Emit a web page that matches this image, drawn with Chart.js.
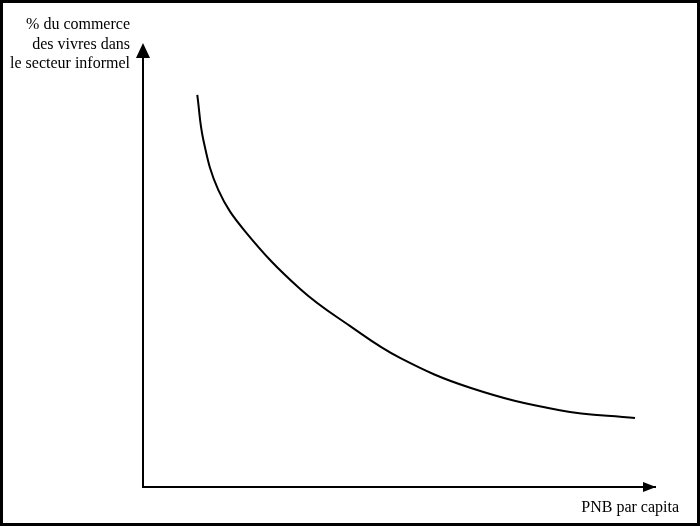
<!DOCTYPE html>
<html>
<head>
<meta charset="utf-8">
<script src="https://cdn.jsdelivr.net/npm/chart.js@4"></script>
<style>
  html, body { margin: 0; padding: 0; background: #fff; }
  #wrap { width: 700px; height: 526px; }
</style>
</head>
<body>
<div id="wrap"><canvas id="curveChart" width="700" height="526"></canvas></div>
<script>
// in axis units (0..100 on both axes)
const gnpPerCapita = [10.6, 11.8, 14.7, 19.9, 30.7, 40.4, 50.2, 63.9, 81.4, 96.1];
const informalShare = [89.3, 79.0, 67.7, 58.3, 45.1, 36.7, 29.4, 22.6, 17.5, 15.7];

const yAxisTitle = ['% du commerce', 'des vivres dans', 'le secteur informel'];
const xAxisTitle = 'PNB par capita';

const points = gnpPerCapita.map((x, i) => ({ x: x, y: informalShare[i] }));

// frame, arrow heads and the two axis labels
const decorPlugin = {
  id: 'decor',
  afterDraw(chart) {
    const ctx = chart.ctx;
    const area = chart.chartArea;
    ctx.save();

    // outer frame
    ctx.strokeStyle = '#000';
    ctx.lineWidth = 3;
    ctx.strokeRect(1.5, 1.5, chart.width - 3, chart.height - 3);

    // arrow on y axis
    ctx.fillStyle = '#000';
    ctx.beginPath();
    ctx.moveTo(area.left, area.top - 5);
    ctx.lineTo(area.left - 7, area.top + 10);
    ctx.lineTo(area.left + 7, area.top + 10);
    ctx.closePath();
    ctx.fill();

    // arrow on x axis
    ctx.beginPath();
    ctx.moveTo(area.right + 1, area.bottom);
    ctx.lineTo(area.right - 12, area.bottom - 5);
    ctx.lineTo(area.right - 12, area.bottom + 5);
    ctx.closePath();
    ctx.fill();

    // labels
    ctx.font = '16px "Liberation Serif", "DejaVu Serif", serif';
    ctx.textAlign = 'right';
    ctx.textBaseline = 'middle';
    yAxisTitle.forEach((line, i) => {
      ctx.fillText(line, area.left - 13, 25 + i * 19.5);
    });
    ctx.fillText(xAxisTitle, chart.width - 21, area.bottom + 21);

    ctx.restore();
  }
};

const ctx = document.getElementById('curveChart').getContext('2d');
const curveChart = new Chart(ctx, {
  type: 'line',
  data: {
    datasets: [{
      data: points,
      borderColor: '#000',
      borderWidth: 2,
      pointRadius: 0,
      fill: false,
      tension: 0.4
    }]
  },
  options: {
    responsive: false,
    animation: false,
    events: [],
    layout: {
      padding: { left: 143, top: 48, right: 45, bottom: 39 }
    },
    plugins: {
      legend: { display: false },
      tooltip: { enabled: false }
    },
    scales: {
      x: {
        type: 'linear',
        min: 0,
        max: 100,
        ticks: { display: false },
        grid: { display: false, drawTicks: false },
        border: { display: true, color: '#000', width: 2 }
      },
      y: {
        type: 'linear',
        min: 0,
        max: 100,
        ticks: { display: false },
        grid: { display: false, drawTicks: false },
        border: { display: true, color: '#000', width: 2 }
      }
    }
  },
  plugins: [decorPlugin]
});
</script>
</body>
</html>
